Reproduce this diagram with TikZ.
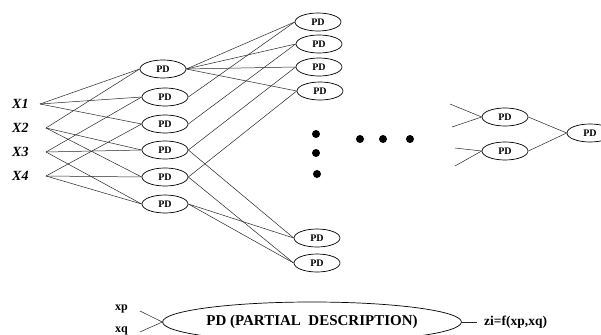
\documentclass[tikz,border=0pt]{standalone}
\usepackage{fontspec}
\setmainfont{Liberation Serif}
\usetikzlibrary{shapes.geometric}
\tikzset{
  x=1pt, y=-1pt,
  pd/.style={ellipse, draw=black, line width=0.7pt, minimum width=46pt, minimum height=18pt, inner sep=0pt,
    font=\fontsize{10}{10}\selectfont\bfseries},
  conn/.style={draw=black!85, line width=0.5pt},
  xlab/.style={font=\fontsize{14}{14}\selectfont\bfseries\itshape, inner sep=0pt},
  dotn/.style={circle, fill=black, inner sep=0pt, minimum size=8pt},
  small/.style={font=\fontsize{12}{12}\selectfont\bfseries, inner sep=0pt},
}
\begin{document}
\begin{tikzpicture}
\clip (0,0) rectangle (601,334);
\fill[white] (0,0) rectangle (601,334);
% input labels
\node[xlab, anchor=west] (X1) at (12,104) {X1};
\node[xlab, anchor=west] (X2) at (12,128) {X2};
\node[xlab, anchor=west] (X3) at (12,152) {X3};
\node[xlab, anchor=west] (X4) at (12,176) {X4};
\coordinate (s1) at (40,104);
\coordinate (s2) at (46,128);
\coordinate (s3) at (46,152);
\coordinate (s4) at (46,176);
% layer 1
\node[pd] (a1) at (163,69) {PD};
\node[pd] (a2) at (165,97) {PD};
\node[pd] (a3) at (165,124) {PD};
\node[pd] (a4) at (165,150) {PD};
\node[pd] (a5) at (165,177) {PD};
\node[pd] (a6) at (165,204) {PD};
% layer 2
\node[pd] (b1) at (318,22) {PD};
\node[pd] (b2) at (319,44) {PD};
\node[pd] (b3) at (319,67) {PD};
\node[pd] (b4) at (320,91) {PD};
\node[pd] (b5) at (317,238) {PD};
\node[pd] (b6) at (317,263) {PD};
% dots
\node[dotn] (d1) at (316,134) {};
\node[dotn] (d2) at (316,153) {};
\node[dotn] (d3) at (317,174) {};
\node[dotn] (d4) at (360,139) {};
\node[dotn] (d5) at (383,139) {};
\node[dotn] (d6) at (410,139) {};
% layer 3
\node[pd] (c1) at (505,117) {PD};
\node[pd] (c2) at (505,151) {PD};
\node[pd] (c3) at (590,133) {PD};
\coordinate (t1) at (450,104);
\coordinate (t2) at (452,127);
\coordinate (t3) at (455,148);
\coordinate (t4) at (455,166);
% connections input -> layer 1
\draw[conn] (s1) -- (a1.west);
\draw[conn] (s1) -- (a2.west);
\draw[conn] (s1) -- (a3.west);
\draw[conn] (s2) -- (a1.west);
\draw[conn] (s2) -- (a4.west);
\draw[conn] (s2) -- (a5.west);
\draw[conn] (s3) -- (a2.west);
\draw[conn] (s3) -- (a4.west);
\draw[conn] (s3) -- (a6.west);
\draw[conn] (s4) -- (a3.west);
\draw[conn] (s4) -- (a5.west);
\draw[conn] (s4) -- (a6.west);
% layer 1 -> layer 2
\draw[conn] (a1.east) -- (b1.west);
\draw[conn] (a1.east) -- (b2.west);
\draw[conn] (a1.east) -- (b3.west);
\draw[conn] (a1.east) -- (b4.west);
\draw[conn] (a2.east) -- (b1.west);
\draw[conn] (a3.east) -- (b2.west);
\draw[conn] (a4.east) -- (b3.west);
\draw[conn] (a5.east) -- (b4.west);
\draw[conn] (a4.east) -- (b5.west);
\draw[conn] (a5.east) -- (b6.west);
\draw[conn] (a6.east) -- (b5.west);
\draw[conn] (a6.east) -- (b6.west);
% layer 3
\draw[conn] (t1) -- (c1.west);
\draw[conn] (t2) -- (c1.west);
\draw[conn] (t3) -- (c2.west);
\draw[conn] (t4) -- (c2.west);
\draw[conn] (c1.east) -- (c3.west);
\draw[conn] (c2.east) -- (c3.west);
% bottom legend
\node[ellipse, draw=black, line width=0.7pt, minimum width=260pt, minimum height=40pt, inner sep=0pt,
  font=\fontsize{15}{15}\selectfont\bfseries] (pd) at (312,322) {PD (PARTIAL\ \ DESCRIPTION)};
\node[small, anchor=west] (xp) at (115,309) {xp};
\node[small, anchor=west] (xq) at (115,331) {xq};
\coordinate (p1) at (140,311);
\coordinate (p2) at (140,332);
\coordinate (p3) at (477,322);
\draw[conn] (p1) -- (pd.west);
\draw[conn] (p2) -- (pd.west);
\draw[conn] (pd.east) -- (p3);
\node[anchor=west, inner sep=0pt, font=\fontsize{13.5}{13.5}\selectfont\bfseries] (zi) at (484,322) {zi=f(xp,xq)};
\end{tikzpicture}
\end{document}
